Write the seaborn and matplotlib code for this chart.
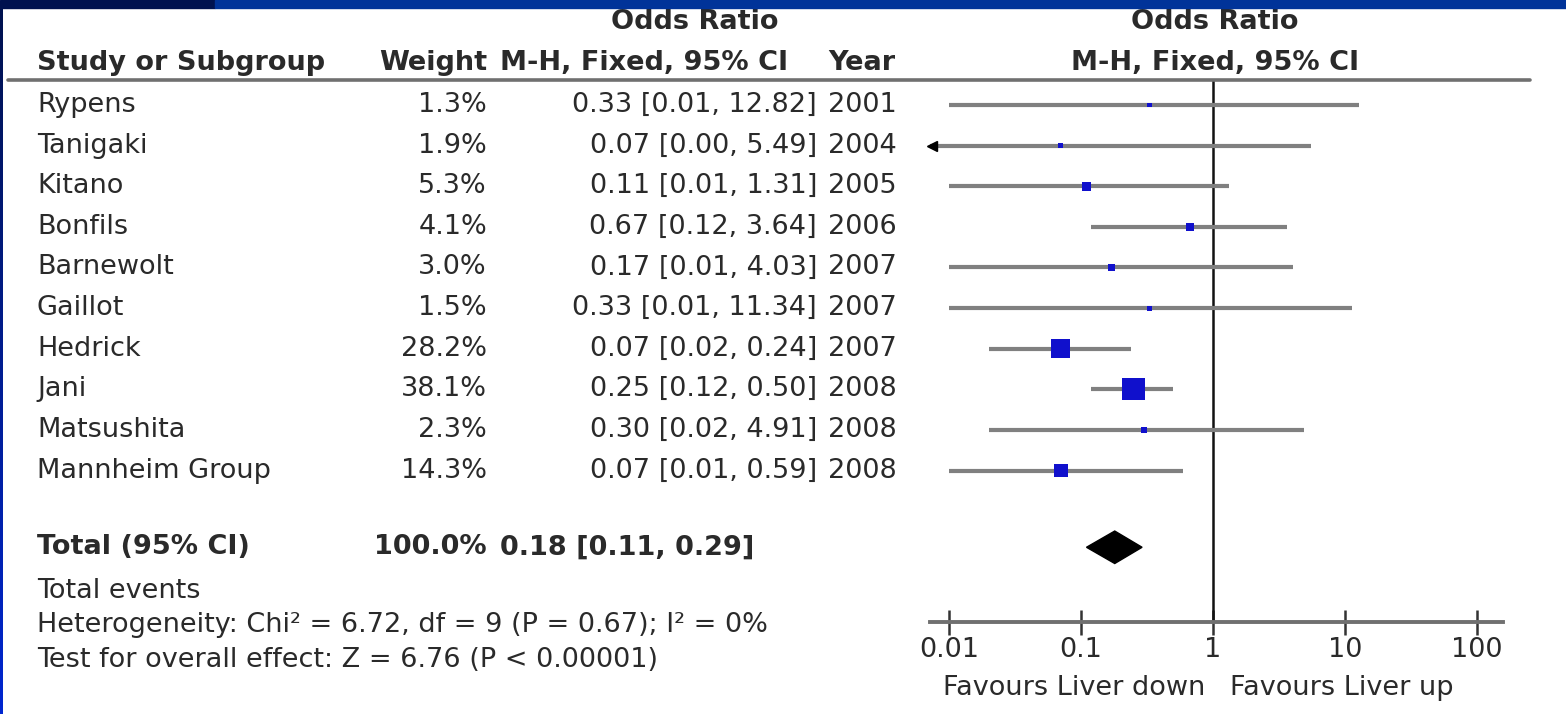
import matplotlib
matplotlib.use("Agg")
import matplotlib.pyplot as plt
import matplotlib.transforms as mtransforms
from matplotlib.patches import Rectangle
import numpy as np
import pandas as pd
import seaborn as sns

# forest plot data
studies = ["Rypens", "Tanigaki", "Kitano", "Bonfils", "Barnewolt", "Gaillot",
           "Hedrick", "Jani", "Matsushita", "Mannheim Group"]
weights = [1.3, 1.9, 5.3, 4.1, 3.0, 1.5, 28.2, 38.1, 2.3, 14.3]
odds = [0.33, 0.07, 0.11, 0.67, 0.17, 0.33, 0.07, 0.25, 0.30, 0.07]
ci_low = [0.01, 0.00, 0.01, 0.12, 0.01, 0.01, 0.02, 0.12, 0.02, 0.01]
ci_high = [12.82, 5.49, 1.31, 3.64, 4.03, 11.34, 0.24, 0.50, 4.91, 0.59]
years = [2001, 2004, 2005, 2006, 2007, 2007, 2007, 2008, 2008, 2008]
total_or, total_low, total_high = 0.18, 0.11, 0.29
ticks = [0.01, 0.1, 1, 10, 100]
tick_labels = ["0.01", "0.1", "1", "10", "100"]

W, H = 1566, 714
sns.set_style("white")
plt.rcParams["font.family"] = ["DejaVu Sans"]
TXT = "#2a2a2a"
FS = 19.5

fig = plt.figure(figsize=(W / 100, H / 100), dpi=100)
fig.patch.set_facecolor("white")

# blue frame
fig.patches.append(Rectangle((0, 1 - 8 / H), 215 / W, 8 / H, transform=fig.transFigure,
                             color="#00124f", zorder=0))
fig.patches.append(Rectangle((215 / W, 1 - 8 / H), 1 - 215 / W, 8 / H,
                             transform=fig.transFigure, color="#003399", zorder=0))
bax = fig.add_axes([0, 0, 3 / W, 1 - 8 / H])
grad = np.linspace(0, 1, 100).reshape(-1, 1)
bax.imshow(grad, aspect="auto", cmap=matplotlib.colors.LinearSegmentedColormap.from_list(
    "b", ["#00124f", "#0026d0"]))
bax.axis("off")

ax = fig.add_axes([930 / W, 1 - 622 / H, (1503 - 930) / W, (622 - 80) / H])

df = pd.DataFrame({"study": studies, "weight": weights, "or": odds,
                   "lo": ci_low, "hi": ci_high, "row": np.arange(len(studies))})
xmin, xmax = 0.00718, 157
ax.set_xscale("log")
ax.set_xlim(xmin, xmax)
ax.set_ylim(12.73, -0.616)

ax.axvline(1, color="#111111", lw=1.8, zorder=1)
ax.hlines(df["row"], np.maximum(df["lo"], xmin), df["hi"], color="#808080", lw=3, zorder=2)
cut = df[df["lo"] < xmin]
ax.plot(np.full(len(cut), xmin * 1.04), cut["row"], marker="<", color="black",
        ms=7, ls="none", zorder=3, clip_on=False)
sns.scatterplot(data=df, x="or", y="row", size="weight", sizes=(12, 260),
                size_norm=(1.3, 38.1), marker="s", color="#1010cc", edgecolor="none",
                legend=False, ax=ax, zorder=4)

# total diamond
ty = 10.89
ax.fill([total_low, total_or, total_high, total_or], [ty, ty - 0.4, ty, ty + 0.4],
        color="black", zorder=4)

ax.set_xticks(ticks)
ax.set_xticklabels(tick_labels)
ax.minorticks_off()
ax.set_yticks([])
ax.set_xlabel("")
ax.set_ylabel("")
ax.tick_params(axis="x", direction="inout", length=18, width=1.8, color="#333333",
               labelsize=FS, labelcolor=TXT, pad=2, bottom=True)
for s in ["top", "right", "left"]:
    ax.spines[s].set_visible(False)
ax.spines["bottom"].set_color("#707070")
ax.spines["bottom"].set_linewidth(2.8)
ax.patch.set_alpha(0)

trans = mtransforms.blended_transform_factory(fig.transFigure, ax.transData)


def put(px, y, s, ha="left", bold=False):
    ax.text(px / W, y, s, transform=trans, ha=ha, va="center", fontsize=FS,
            color=TXT, fontweight="bold" if bold else "normal", clip_on=False)


# header
put(695, -2.04, "Odds Ratio", ha="center", bold=True)
put(1215, -2.04, "Odds Ratio", ha="center", bold=True)
put(37, -1.03, "Study or Subgroup", bold=True)
put(487, -1.03, "Weight", ha="right", bold=True)
put(500, -1.03, "M-H, Fixed, 95% CI", bold=True)
put(828, -1.03, "Year", bold=True)
put(1215, -1.03, "M-H, Fixed, 95% CI", ha="center", bold=True)
ax.plot([8 / W, 1530 / W], [-0.616, -0.616], transform=trans, color="#707070", lw=2.6,
        clip_on=False)

for i in range(len(studies)):
    put(37, i, studies[i])
    put(487, i, f"{weights[i]:.1f}%", ha="right")
    put(817, i, f"{odds[i]:.2f} [{ci_low[i]:.2f}, {ci_high[i]:.2f}]", ha="right")
    put(828, i, str(years[i]))

put(37, ty, "Total (95% CI)", bold=True)
put(487, ty, "100.0%", ha="right", bold=True)
put(500, ty, f"{total_or:.2f} [{total_low:.2f}, {total_high:.2f}]", bold=True)
put(37, 11.97, "Total events")
put(37, 12.81, "Heterogeneity: Chi² = 6.72, df = 9 (P = 0.67); I² = 0%")
put(37, 13.67, "Test for overall effect: Z = 6.76 (P < 0.00001)")
put(1205, 14.36, "Favours Liver down", ha="right")
put(1230, 14.36, "Favours Liver up")

fig.savefig("out.png", dpi=100)
